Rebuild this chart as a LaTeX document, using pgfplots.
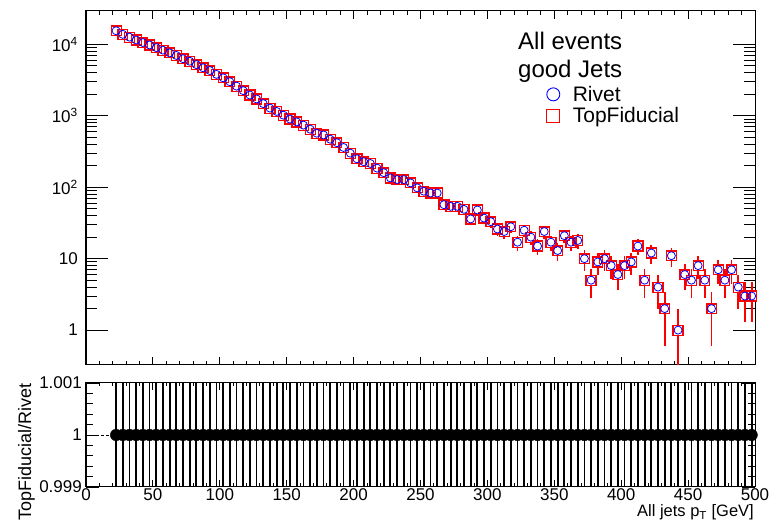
\documentclass[border=0pt]{standalone}
\usepackage{fontspec}
\setmainfont{Liberation Sans}
\usepackage{pgfplots}
\pgfplotsset{compat=1.18}
\usepackage{pgfplotstable}

\pgfplotstableread{
x y ep em r re
22.5 15500 124 124 1 0.01
27.5 13800 117 117 1 0.01
32.5 12600 112 112 1 0.01
37.5 11500 107 107 1 0.01
42.5 10600 103 103 1 0.01
47.5 9800 99 99 1 0.01
52.5 9000 95 95 1 0.01
57.5 8300 91 91 1 0.01
62.5 7600 87 87 1 0.01
67.5 7000 84 84 1 0.01
72.5 6300 79 79 1 0.01
77.5 5800 76 76 1 0.01
82.5 5200 72 72 1 0.01
87.5 4700 69 69 1 0.01
92.5 4300 66 66 1 0.01
97.5 3800 62 62 1 0.01
102.5 3400 58 58 1 0.01
107.5 3000 55 55 1 0.01
112.5 2600 51 51 1 0.01
117.5 2250 47 47 1 0.01
122.5 1950 44 44 1 0.01
127.5 1720 41 41 1 0.01
132.5 1480 38 38 1 0.01
137.5 1280 36 36 1 0.01
142.5 1150 34 34 1 0.01
147.5 1020 32 32 1 0.01
152.5 900 30 30 1 0.01
157.5 820 29 29 1 0.01
162.5 740 27 27 1 0.01
167.5 650 25 25 1 0.01
172.5 570 24 24 1 0.01
177.5 540 23 23 1 0.01
182.5 470 22 22 1 0.01
187.5 420 20 20 1 0.01
192.5 360 19 19 1 0.01
197.5 300 17 17 1 0.01
202.5 250 16 16 1 0.01
207.5 228 15 15 1 0.01
212.5 215 15 15 1 0.01
217.5 185 14 14 1 0.01
222.5 160 13 13 1 0.01
227.5 135 12 12 1 0.01
232.5 128 11 11 1 0.01
237.5 128 11 11 1 0.01
242.5 115 11 11 1 0.01
247.5 98 10 10 1 0.01
252.5 88 9.4 9.4 1 0.01
257.5 83 9.1 9.1 1 0.01
262.5 83 9.1 9.1 1 0.01
267.5 57 7.5 7.5 1 0.01
272.5 54 7.3 7.3 1 0.01
277.5 54 7.3 7.3 1 0.01
282.5 49 7 7 1 0.01
287.5 36 6 6 1 0.01
292.5 48 6.9 6.9 1 0.01
297.5 37 6.1 6.1 1 0.01
302.5 33 5.7 5.7 1 0.01
307.5 26 5.1 5.1 1 0.01
312.5 24 4.9 4.9 1 0.01
317.5 28 5.3 5.3 1 0.01
322.5 17 4.1 4.1 1 0.01
327.5 25 5 5 1 0.01
332.5 20 4.5 4.5 1 0.01
337.5 15 3.9 3.9 1 0.01
342.5 24 4.9 4.9 1 0.01
347.5 17 4.1 4.1 1 0.01
352.5 13 3.6 3.6 1 0.01
357.5 21 4.6 4.6 1 0.01
362.5 17 4.1 4.1 1 0.01
367.5 18 4.2 4.2 1 0.01
372.5 10 3.2 3.2 1 0.01
377.5 5 2.2 2.2 1 0.01
382.5 9 3 3 1 0.01
387.5 10 3.2 3.2 1 0.01
392.5 8 2.8 2.8 1 0.01
397.5 6 2.4 2.4 1 0.01
402.5 8 2.8 2.8 1 0.01
407.5 9 3 3 1 0.01
412.5 15 3.9 3.9 1 0.01
417.5 5 2.2 2.2 1 0.01
422.5 12 3.5 3.5 1 0.01
427.5 4 2 2 1 0.01
432.5 2 1.41 1.41 1 0.01
437.5 11 3.3 3.3 1 0.01
442.5 1 1 0.99 1 0.01
447.5 6 2.4 2.4 1 0.01
452.5 5 2.2 2.2 1 0.01
457.5 8 2.8 2.8 1 0.01
462.5 5 2.2 2.2 1 0.01
467.5 2 1.41 1.41 1 0.01
472.5 7 2.6 2.6 1 0.01
477.5 5 2.2 2.2 1 0.01
482.5 7 2.6 2.6 1 0.01
487.5 4 2 2 1 0.01
492.5 3 1.7 1.7 1 0.01
497.5 3 1.7 1.7 1 0.01
}\topdata

\pgfplotsset{
  rootframe/.style={
    scale only axis, width=669pt, xmin=0, xmax=500,
    axis line style={line width=1pt, black},
    tick style={line width=0.9pt, black},
    tick pos=both, tick align=inside,
    tick label style={font=\fontsize{17}{17}\selectfont},
  },
}

\begin{document}
\begin{tikzpicture}[x=1pt,y=1pt]
\path[use as bounding box] (0,0) rectangle (769,521);

% ---------- top panel: x ticks only ----------
\begin{axis}[rootframe, at={(86pt,156pt)}, anchor=south west, height=354pt,
  ymin=0, ymax=1, ytick=\empty,
  xtick={0,50,...,500}, minor x tick num=4, xticklabels={},
  major tick length=8pt, minor tick length=4pt]
\end{axis}

% ---------- top panel: data + y ticks ----------
\begin{axis}[rootframe, at={(86pt,156pt)}, anchor=south west, height=354pt,
  ymode=log, ymin=0.325, ymax=29300,
  xtick=\empty,
  ytick={1,10,100,1000,10000},
  yticklabels={1,10,10\textsuperscript{2},10\textsuperscript{3},10\textsuperscript{4}},
  yticklabel style={inner sep=0pt, xshift=-8pt},
  major tick length=22pt, minor tick length=11pt,
  legend style={draw=none, fill=none, at={(0.684,0.80)}, anchor=north west,
    font=\fontsize{21}{21}\selectfont, row sep=1pt,
    /tikz/every odd column/.append style={column sep=11pt}},
  legend cell align=left]
\addlegendimage{only marks, mark=o, mark size=6.5pt, blue, mark options={line width=0.9pt}}
\addlegendentry{Rivet}
\addlegendimage{only marks, mark=square, mark size=6.5pt, red, mark options={line width=0.9pt}}
\addlegendentry{TopFiducial}

\addplot[forget plot, red, only marks, mark=square*, mark size=4.8pt,
  mark options={draw=none, fill=white},
  error bars/.cd, y dir=both, y explicit, error mark=none,
  error bar style={draw=red, solid, line width=1.7pt}]
  table[x=x, y=y, y error plus=ep, y error minus=em]{\topdata};
\addplot[forget plot, red, only marks, mark=square, mark size=5pt,
  mark options={red, line width=1.2pt}]
  table[x=x, y=y]{\topdata};
\addplot[forget plot, blue, only marks, mark=o, mark size=4pt,
  mark options={blue, line width=0.8pt}]
  table[x=x, y=y]{\topdata};
\end{axis}

\node[anchor=base west, inner sep=0pt, font=\fontsize{24}{24}\selectfont] at (518,471) {All events};
\node[anchor=base west, inner sep=0pt, font=\fontsize{24}{24}\selectfont] at (518,443.7) {good Jets};

% ---------- bottom panel: x ticks ----------
\begin{axis}[rootframe, at={(86pt,34pt)}, anchor=south west, height=104pt,
  ymin=0, ymax=1, ytick=\empty,
  xtick={0,50,...,500}, minor x tick num=4,
  xticklabels={0,50,100,150,200,250,300,350,400,450,500},
  xticklabel style={inner sep=0pt, yshift=-1pt},
  major tick length=7pt, minor tick length=3.5pt]
\end{axis}

% ---------- bottom panel: ratio ----------
\begin{axis}[rootframe, at={(86pt,34pt)}, anchor=south west, height=104pt,
  ymin=0.999, ymax=1.001, xtick=\empty,
  ytick={0.999,1,1.001}, yticklabels={0.999,1,1.001},
  minor y tick num=4,
  yticklabel style={inner sep=0pt, xshift=-4pt},
  major tick length=13pt, minor tick length=7pt]
\addplot[forget plot, black, line width=0.5pt, dash pattern=on 3pt off 2pt] coordinates {(0,1) (500,1)};
\addplot[forget plot, only marks, mark=*, mark size=5.8pt, black,
  error bars/.cd, y dir=both, y explicit, error mark=none,
  error bar style={black, line width=1.8pt}]
  table[x=x, y=r, y error=re]{\topdata};
\end{axis}

\node[anchor=base east, inner sep=0pt, font=\fontsize{16.5}{16.5}\selectfont] at (754,4.5) {All jets p\textsubscript{T} [GeV]};
\node[anchor=base east, rotate=90, inner sep=0pt, font=\fontsize{18}{18}\selectfont] at (31,138) {TopFiducial/Rivet};
\end{tikzpicture}
\end{document}
